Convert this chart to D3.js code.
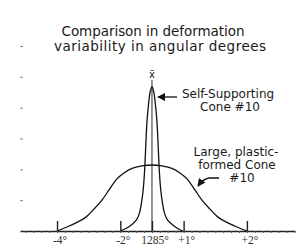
<!DOCTYPE html>
<html>
<head>
<meta charset="utf-8">
<script src="https://cdn.jsdelivr.net/npm/d3@7"></script>
<style>
  body { margin: 0; background: #fff; }
  svg { display: block; }
  .lbl { font-family: "DejaVu Sans", sans-serif; fill: #1a1a1a; }
</style>
</head>
<body>
<div id="chart"></div>
<script>
// chart values (x in tick units, y in arbitrary height units)
const tickPos = [-3, -1, 0, 1, 3];
const tickLabels = ["-4°", "-2°", "1285°", "+1°", "+2°"];
const yDots = [1, 2, 3, 4, 5, 6];

// self-supporting cone: narrow peak
const narrowX = [-1.0, -0.727, -0.49, -0.395, -0.332, -0.278, -0.231, -0.209, -0.158, -0.11, -0.057, 0,
                 0.057, 0.11, 0.158, 0.209, 0.231, 0.278, 0.332, 0.395, 0.49, 0.727, 0.97];
const narrowY = [0, 0.14, 0.36, 0.58, 0.91, 1.33, 1.98, 2.47, 3.54, 4.09, 4.51, 4.67,
                 4.51, 4.09, 3.54, 2.47, 1.98, 1.33, 0.91, 0.58, 0.36, 0.14, 0];

// large plastic-formed cone: wide curve
const wideX = [-3.0, -2.686, -2.37, -2.085, -1.833, -1.58, -1.359, -1.106, -0.885, -0.632, -0.316, 0,
               0.316, 0.632, 0.885, 1.106, 1.359, 1.58, 1.833, 2.085, 2.37, 2.686, 3.0];
const wideY = [0, 0.13, 0.28, 0.45, 0.71, 1.0, 1.33, 1.69, 1.88, 2.03, 2.11, 2.14,
               2.11, 2.03, 1.88, 1.69, 1.33, 1.0, 0.71, 0.45, 0.28, 0.13, 0];

const width = 307, height = 249;
const baseY = 231;

const x = d3.scaleLinear().domain([-4.17, 4.52]).range([20, 295]);
const y = d3.scaleLinear().domain([0, 6]).range([baseY, 46]);

const svg = d3.select("#chart").append("svg")
    .attr("width", width)
    .attr("height", height)
    .attr("viewBox", [0, 0, width, height]);

// title
svg.append("text").attr("class", "lbl")
    .attr("x", 153).attr("y", 36)
    .attr("text-anchor", "middle").style("font-size", "13.5px")
    .attr("textLength", 183).attr("lengthAdjust", "spacing")
    .text("Comparison in deformation");
svg.append("text").attr("class", "lbl")
    .attr("x", 160).attr("y", 51)
    .attr("text-anchor", "middle").style("font-size", "13.5px")
    .attr("textLength", 212).attr("lengthAdjust", "spacing")
    .text("variability in angular degrees");

// little y marks, no axis line
svg.append("g")
    .attr("transform", `translate(23,0)`)
    .call(d3.axisLeft(y).tickValues(yDots).tickSize(3).tickFormat(""))
    .call(g => g.select(".domain").remove())
    .call(g => g.selectAll("line").attr("stroke", "#888"));

// centre line and x-bar
svg.append("line")
    .attr("x1", x(0)).attr("x2", x(0))
    .attr("y1", 80).attr("y2", baseY)
    .attr("stroke", "#666").attr("stroke-width", 1.4);
svg.append("text").attr("class", "lbl")
    .attr("x", x(0)).attr("y", 78)
    .attr("text-anchor", "middle").style("font-size", "10px")
    .text("x\u0304");

// curves
const line = d3.line().curve(d3.curveCatmullRom.alpha(0.5));
svg.append("path")
    .attr("d", line(wideX.map((v, i) => [x(v), y(wideY[i])])))
    .attr("fill", "none").attr("stroke", "#111").attr("stroke-width", 1.3);
svg.append("path")
    .attr("d", line(narrowX.map((v, i) => [x(v), y(narrowY[i])])))
    .attr("fill", "none").attr("stroke", "#111").attr("stroke-width", 1.3);

// x axis: minor ticks down, major ticks up
const minor = d3.range(-16, 19).map(d => d / 4);
svg.append("g")
    .attr("transform", `translate(0,${baseY})`)
    .call(d3.axisBottom(x).tickValues(minor).tickSize(2).tickSizeOuter(0).tickFormat(""))
    .call(g => g.select(".domain").attr("stroke", "#222").attr("stroke-width", 1.4))
    .call(g => g.selectAll(".tick line").attr("stroke", "#555"));
svg.append("g")
    .attr("transform", `translate(0,${baseY})`)
    .call(d3.axisTop(x).tickValues(tickPos).tickSize(10).tickFormat(""))
    .call(g => g.select(".domain").remove())
    .call(g => g.selectAll(".tick line").attr("stroke", "#222").attr("stroke-width", 1.4));
svg.append("g")
    .selectAll("text")
    .data(tickPos)
    .join("text")
    .attr("x", d => x(d) + 3)
    .attr("y", 244)
    .attr("text-anchor", "middle")
    .style("font-family", "'Liberation Serif', serif")
    .style("font-size", "11.5px")
    .attr("fill", "#333")
    .text((d, i) => tickLabels[i]);

// annotations
const notes = [
    ["Self-Supporting", 228, 98],
    ["Cone #10", 230, 111],
    ["Large, plastic-", 236, 156],
    ["formed Cone", 237, 169],
    ["#10", 242, 182]
];
svg.append("g")
    .selectAll("text")
    .data(notes)
    .join("text")
    .attr("class", "lbl")
    .attr("x", d => d[1]).attr("y", d => d[2])
    .attr("text-anchor", "middle").style("font-size", "12px")
    .text(d => d[0]);

svg.append("defs").append("marker")
    .attr("id", "head")
    .attr("viewBox", "0 0 10 10")
    .attr("refX", 9).attr("refY", 5)
    .attr("markerWidth", 6).attr("markerHeight", 6)
    .attr("orient", "auto")
    .append("path").attr("d", "M0,0L10,5L0,10z").attr("fill", "#111");

svg.append("line")
    .attr("x1", 177).attr("y1", 97).attr("x2", 158).attr("y2", 97)
    .attr("stroke", "#111").attr("stroke-width", 1.3)
    .attr("marker-end", "url(#head)");
svg.append("path")
    .attr("d", "M219,178 L209,178 Q203,179 198,186")
    .attr("fill", "none").attr("stroke", "#111").attr("stroke-width", 1.3)
    .attr("marker-end", "url(#head)");
</script>
</body>
</html>
